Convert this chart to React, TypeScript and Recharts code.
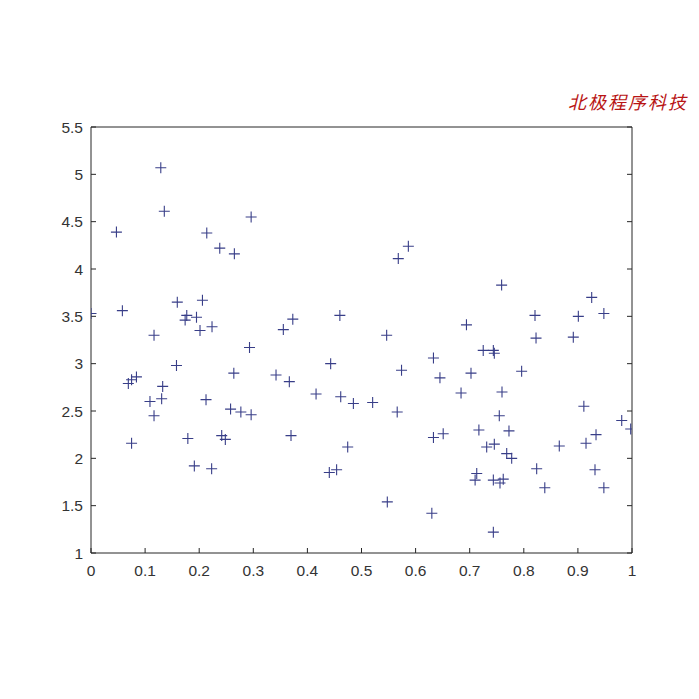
import React from "react";
import { ScatterChart, Scatter, XAxis, YAxis } from "recharts";

// values
const XS = [
  0, 0.047, 0.058, 0.069, 0.075, 0.084, 0.075, 0.109, 0.1165, 0.1165,
  0.129, 0.1355, 0.1306, 0.1325, 0.1595, 0.158, 0.174, 0.177, 0.179, 0.191,
  0.195, 0.2015, 0.206, 0.214, 0.2126, 0.223, 0.2237, 0.238, 0.2416, 0.2483,
  0.258, 0.265, 0.264, 0.277, 0.293, 0.296, 0.296, 0.342, 0.3555, 0.3666,
  0.3697, 0.373, 0.416, 0.4405, 0.443, 0.454, 0.46, 0.4616, 0.4745, 0.485,
  0.5206, 0.5465, 0.5477, 0.566, 0.568, 0.574, 0.5866, 0.63, 0.633, 0.633,
  0.645, 0.651, 0.684, 0.694, 0.7024, 0.71, 0.713, 0.717, 0.725, 0.7314,
  0.7437, 0.7455, 0.7455, 0.7437, 0.7437, 0.756, 0.7547, 0.762, 0.759, 0.7597,
  0.7684, 0.7726, 0.7776, 0.796, 0.8207, 0.8226, 0.8238, 0.8388, 0.8656, 0.8915,
  0.9008, 0.911, 0.915, 0.9255, 0.9316, 0.9335, 0.948, 0.948, 0.981, 0.9976,
];

const YS = [
  3.53, 4.39, 3.56, 2.79, 2.83, 2.86, 2.16, 2.6, 2.45, 3.3,
  5.07, 4.61, 2.63, 2.76, 3.65, 2.98, 3.46, 3.51, 2.21, 1.92,
  3.49, 3.35, 3.67, 4.38, 2.62, 1.89, 3.39, 4.22, 2.24, 2.2,
  2.52, 4.16, 2.9, 2.49, 3.17, 2.46, 4.55, 2.88, 3.36, 2.81,
  2.24, 3.47, 2.68, 1.85, 3.0, 1.88, 3.51, 2.65, 2.12, 2.58,
  2.59, 3.3, 1.54, 2.49, 4.11, 2.93, 4.24, 1.42, 3.06, 2.22,
  2.85, 2.26, 2.69, 3.41, 2.9, 1.77, 1.84, 2.3, 3.14, 2.12,
  3.14, 3.11, 2.15, 1.77, 1.22, 1.74, 2.45, 1.78, 3.83, 2.7,
  2.05, 2.29, 2.0, 2.92, 3.51, 3.27, 1.89, 1.69, 2.13, 3.28,
  3.5, 2.55, 2.16, 3.7, 1.88, 2.25, 3.53, 1.69, 2.4, 2.31,
];

const X_TICKS = [0, 0.1, 0.2, 0.3, 0.4, 0.5, 0.6, 0.7, 0.8, 0.9, 1];
const Y_TICKS = [1, 1.5, 2, 2.5, 3, 3.5, 4, 4.5, 5, 5.5];

const points = XS.map((x, i) => ({ x, y: YS[i] }));

const AXIS_COLOR = "#262626";
const MARK_COLOR = "#383e88";
const tickFont = { fill: "#333", fontSize: 15.5, fontFamily: "Liberation Sans, Arial, sans-serif" };

function Plus(props: any) {
  const { cx, cy } = props;
  const r = 5.5;
  return (
    <path
      d={`M${cx - r},${cy}H${cx + r}M${cx},${cy - r}V${cy + r}`}
      stroke={MARK_COLOR}
      strokeWidth={1.1}
      fill="none"
    />
  );
}

const NoLabel = () => <g />;

export default function App() {
  return (
    <div style={{ position: "absolute", left: 0, top: 0, width: 699, height: 699, background: "#fff" }}>
      <ScatterChart
        width={699}
        height={699}
        margin={{ top: 117, right: 57, bottom: 106, left: 41 }}
      >
        <XAxis
          type="number"
          dataKey="x"
          domain={[0, 1]}
          ticks={X_TICKS}
          height={40}
          tickSize={-5}
          tickMargin={17}
          tick={tickFont}
          stroke={AXIS_COLOR}
          allowDataOverflow
        />
        <XAxis
          xAxisId="top"
          type="number"
          orientation="top"
          domain={[0, 1]}
          ticks={X_TICKS}
          height={10}
          tickSize={-5}
          tick={NoLabel}
          stroke={AXIS_COLOR}
          allowDataOverflow
        />
        <YAxis
          type="number"
          dataKey="y"
          domain={[1, 5.5]}
          ticks={Y_TICKS}
          width={50}
          tickSize={-5}
          tickMargin={13}
          tick={tickFont}
          stroke={AXIS_COLOR}
          allowDataOverflow
        />
        <YAxis
          yAxisId="right"
          type="number"
          orientation="right"
          domain={[1, 5.5]}
          ticks={Y_TICKS}
          width={10}
          tickSize={-5}
          tick={NoLabel}
          stroke={AXIS_COLOR}
          allowDataOverflow
        />
        <Scatter data={points} shape={Plus} isAnimationActive={false} />
      </ScatterChart>
      <div
        style={{
          position: "absolute",
          left: 568,
          top: 88,
          whiteSpace: "nowrap",
          color: "#b81414",
          fontSize: 18,
          fontStyle: "italic",
          fontFamily: "Noto Sans CJK SC, sans-serif",
          letterSpacing: 2,
        }}
      >
        北极程序科技
      </div>
    </div>
  );
}
